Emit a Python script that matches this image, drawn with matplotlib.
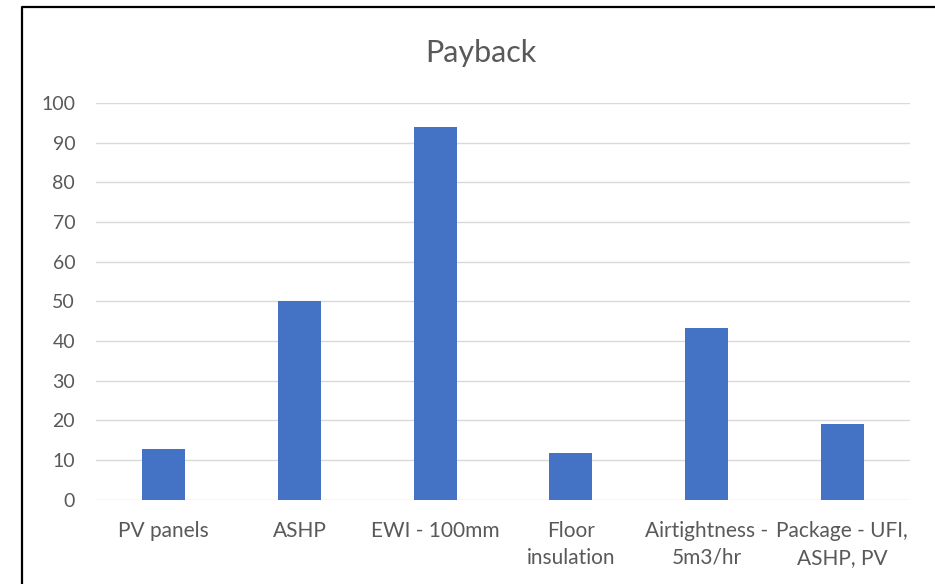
import matplotlib.pyplot as plt
from matplotlib.lines import Line2D
import numpy as np

# data
categories = ["PV panels", "ASHP", "EWI - 100mm", "Floor\ninsulation",
              "Airtightness -\n5m3/hr", "Package - UFI,\nASHP, PV"]
payback = [12.8, 50.0, 93.9, 11.8, 43.2, 19.0]
yticks = list(range(0, 101, 10))

BAR = "#4472C4"
GRID = "#D9D9D9"
TXT = "#595959"

plt.rcParams['font.family'] = ['Lato', 'DejaVu Sans']

W, H = 935, 584
fig = plt.figure(figsize=(W / 100, H / 100), dpi=100)
fig.patch.set_facecolor("white")

# plot area in pixel terms of the reference
left, right, top, bottom = 96, 910, 103, 499.7
ax = fig.add_axes([left / W, 1 - bottom / H, (right - left) / W, (bottom - top) / H])

x = np.arange(len(categories))
ax.bar(x, payback, width=0.317, color=BAR, zorder=3)

ax.set_xlim(-0.5, len(categories) - 0.5)
ax.set_ylim(0, 100)
ax.set_yticks(yticks)
ax.set_xticks(x)
ax.set_xticklabels(categories, linespacing=1.45)

for s in ax.spines.values():
    s.set_visible(False)
ax.yaxis.grid(True, color=GRID, linewidth=1.0, zorder=0)
ax.tick_params(axis="both", length=0, colors=TXT)
ax.tick_params(axis="y", pad=15, labelsize=14)
ax.tick_params(axis="x", pad=15, labelsize=15)

fig.text(481 / W, 1 - 61.7 / H, "Payback", ha="center", va="baseline",
         fontsize=22, color=TXT)

# chart border (only left and top edges show in the crop)
bx, by = 22 / W, 1 - 7 / H
fig.add_artist(Line2D([bx, bx, 1.0], [0, by, by], color="black", linewidth=1.6,
                      transform=fig.transFigure))

fig.savefig("out.png", dpi=100, facecolor="white")
